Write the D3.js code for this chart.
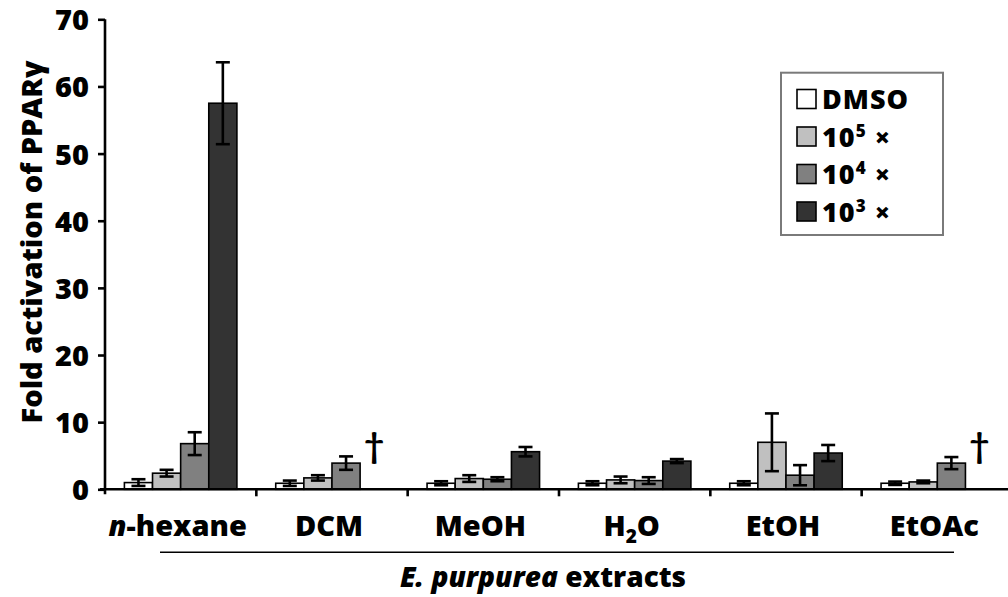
<!DOCTYPE html>
<html>
<head>
<meta charset="utf-8">
<script src="https://cdn.jsdelivr.net/npm/d3@7"></script>
<style>
  html, body { margin: 0; padding: 0; background: #fff; }
  svg { display: block; }
  text { font-family: "Open Sans", Lato, sans-serif; font-weight: 800; fill: #000; }
</style>
</head>
<body>
<svg id="chart" width="1008" height="597"></svg>
<script>
// Extract solvents (x categories)
const groups = ["n-hexane", "DCM", "MeOH", "H2O", "EtOH", "EtOAc"];
// Treatment series
const series = ["DMSO", "1e5", "1e4", "1e3"];
const seriesColors = ["#ffffff", "#c0c0c0", "#808080", "#333333"];
const seriesExp = [null, "5", "4", "3"];

// Mean fold activation per extract (null = not measured, marked with †)
const valDMSO = [1.0, 0.9, 0.9, 0.9, 0.9, 0.9];
const val1e5  = [2.4, 1.7, 1.6, 1.4, 7.0, 1.1];
const val1e4  = [6.8, 3.9, 1.5, 1.3, 2.1, 3.9];
const val1e3  = [57.5, null, 5.6, 4.2, 5.4, null];

// Standard deviations
const errDMSO = [0.5, 0.4, 0.3, 0.3, 0.3, 0.25];
const err1e5  = [0.5, 0.4, 0.5, 0.5, 4.3, 0.2];
const err1e4  = [1.7, 1.0, 0.3, 0.5, 1.5, 0.9];
const err1e3  = [6.1, null, 0.7, 0.3, 1.2, null];

const yTicks = [0, 10, 20, 30, 40, 50, 60, 70];

const values = [valDMSO, val1e5, val1e4, val1e3];
const errors = [errDMSO, err1e5, err1e4, err1e3];

const rows = [];
groups.forEach((g, gi) => {
  series.forEach((s, si) => {
    rows.push({ group: g, series: s, si, value: values[si][gi], err: errors[si][gi] });
  });
});

const svg = d3.select("#chart");

const y = d3.scaleLinear().domain([0, 70]).range([489.3, 19.3]);
const x0 = d3.scaleBand().domain(groups).range([105, 1013]);
const x1 = d3.scaleBand().domain(series).range([19.4, 131.9]);

// Bars
const bars = svg.append("g");
bars.selectAll("rect")
  .data(rows.filter(d => d.value !== null))
  .join("rect")
  .attr("x", d => x0(d.group) + x1(d.series))
  .attr("y", d => y(d.value))
  .attr("width", x1.bandwidth())
  .attr("height", d => y(0) - y(d.value))
  .attr("fill", d => seriesColors[d.si])
  .attr("stroke", "#000")
  .attr("stroke-width", 1.6);

// Error bars
const eb = svg.append("g").attr("stroke", "#000").attr("stroke-width", 2.6);
const withErr = rows.filter(d => d.value !== null && d.err !== null);
const cx = d => x0(d.group) + x1(d.series) + x1.bandwidth() / 2;
eb.selectAll("line.v").data(withErr).join("line").attr("class", "v")
  .attr("x1", cx).attr("x2", cx)
  .attr("y1", d => y(d.value + d.err)).attr("y2", d => y(d.value - d.err));
eb.selectAll("line.t").data(withErr).join("line").attr("class", "t")
  .attr("x1", d => cx(d) - 7).attr("x2", d => cx(d) + 7)
  .attr("y1", d => y(d.value + d.err)).attr("y2", d => y(d.value + d.err));
eb.selectAll("line.b").data(withErr).join("line").attr("class", "b")
  .attr("x1", d => cx(d) - 7).attr("x2", d => cx(d) + 7)
  .attr("y1", d => y(d.value - d.err)).attr("y2", d => y(d.value - d.err));

// Daggers for missing measurements
svg.append("g").selectAll("text")
  .data(rows.filter(d => d.value === null))
  .join("text")
  .attr("x", cx)
  .attr("y", y(0) - 31)
  .attr("text-anchor", "middle")
  .style("font-family", "Lato, sans-serif")
  .style("font-weight", "bold")
  .style("font-size", "35px")
  .text("†");

// Y axis
const yAxis = svg.append("g")
  .attr("transform", "translate(105,0)")
  .call(d3.axisLeft(y).tickValues(yTicks).tickSize(7).tickSizeOuter(0).tickPadding(9));
yAxis.select(".domain").attr("stroke-width", 2.6).attr("d", `M0,${y(70)}V${y(0) + 5}`);
yAxis.selectAll(".tick line").attr("stroke-width", 2.6);
yAxis.selectAll(".tick text")
  .style("font-family", "'Open Sans', sans-serif")
  .style("font-weight", "800")
  .style("font-size", "29px")
  .attr("dy", "0.36em");

// X axis line with group separators
const xAxis = svg.append("g");
xAxis.append("line")
  .attr("x1", 100).attr("x2", 1008)
  .attr("y1", y(0)).attr("y2", y(0))
  .attr("stroke", "#000").attr("stroke-width", 2.6);
xAxis.selectAll("line.sep")
  .data(groups.slice(1))
  .join("line").attr("class", "sep")
  .attr("x1", d => x0(d)).attr("x2", d => x0(d))
  .attr("y1", y(0)).attr("y2", y(0) + 7)
  .attr("stroke", "#000").attr("stroke-width", 2.6);

// Category labels
const labels = svg.append("g").selectAll("text")
  .data(groups)
  .join("text")
  .attr("x", d => x0(d) + x0.bandwidth() / 2 - 3)
  .attr("y", 536)
  .attr("text-anchor", "middle")
  .style("font-size", "29px");
labels.each(function(d) {
  const t = d3.select(this);
  if (d === "n-hexane") {
    t.append("tspan").style("font-style", "italic").text("n");
    t.append("tspan").text("-hexane");
  } else if (d === "H2O") {
    t.append("tspan").text("H");
    t.append("tspan").attr("dy", 7).style("font-size", "19px").text("2");
    t.append("tspan").attr("dy", -7).text("O");
  } else {
    t.text(d);
  }
});

// Bracket line and axis title
svg.append("line")
  .attr("x1", 160).attr("x2", 954)
  .attr("y1", 552.3).attr("y2", 552.3)
  .attr("stroke", "#000").attr("stroke-width", 1.6);

const xTitle = svg.append("text")
  .attr("x", 543).attr("y", 587)
  .attr("text-anchor", "middle")
  .style("font-size", "28px");
xTitle.append("tspan").style("font-style", "italic").text("E. purpurea");
xTitle.append("tspan").text(" extracts");

// Y axis title
svg.append("text")
  .attr("transform", "translate(42,242) rotate(-90)")
  .attr("text-anchor", "middle")
  .style("font-size", "29px")
  .text("Fold activation of PPARγ");

// Legend
const legend = svg.append("g");
legend.append("rect")
  .attr("x", 781).attr("y", 72.7)
  .attr("width", 162).attr("height", 162.3)
  .attr("fill", "#fff").attr("stroke", "#7a7a7a").attr("stroke-width", 2);
const rowY = [99, 136.5, 174, 211.5];
const item = legend.selectAll("g.item").data(series).join("g").attr("class", "item")
  .attr("transform", (d, i) => `translate(797,${rowY[i]})`);
item.append("rect")
  .attr("x", 0).attr("y", -9.5).attr("width", 19).attr("height", 19)
  .attr("fill", (d, i) => seriesColors[i])
  .attr("stroke", "#000").attr("stroke-width", 1.6);
item.append("text")
  .attr("x", 25).attr("y", 10)
  .style("font-size", "27px")
  .style("letter-spacing", "1px")
  .each(function(d, i) {
    const t = d3.select(this);
    if (seriesExp[i] === null) {
      t.text(d);
    } else {
      t.append("tspan").text("10");
      t.append("tspan").attr("dy", -10).style("font-size", "17px").text(seriesExp[i]);
      t.append("tspan").attr("dy", 10).text(" ×");
    }
  });
</script>
</body>
</html>
